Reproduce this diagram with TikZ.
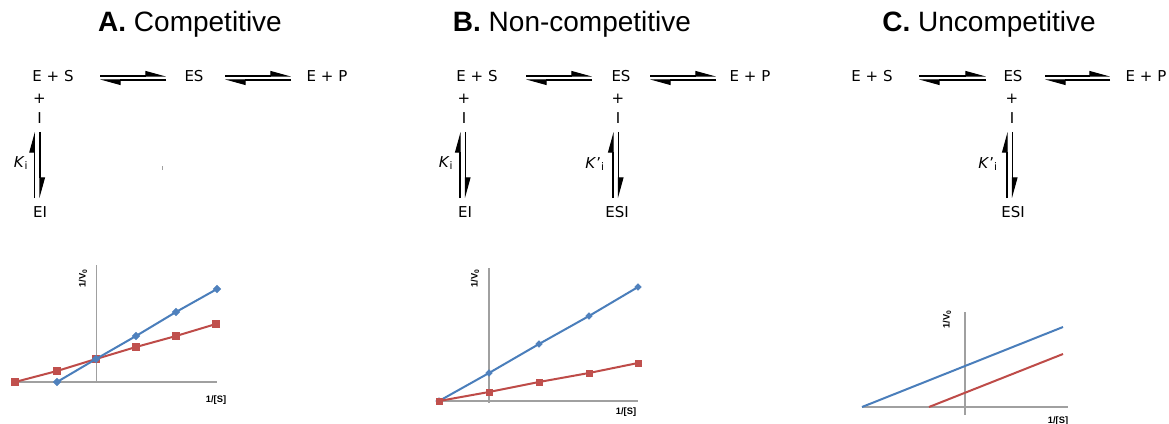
\documentclass[tikz,border=0pt]{standalone}
\usepackage{fontspec}
\setmainfont{DejaVu Sans}
\newfontfamily\titlefont{Liberation Sans}
\usetikzlibrary{arrows.meta,plotmarks}
\definecolor{exblue}{HTML}{4A7EBB}
\definecolor{exred}{HTML}{BE4B48}
\definecolor{mkblue}{HTML}{4F81BD}
\definecolor{mkred}{HTML}{C0504D}
\definecolor{axgray}{HTML}{A0A0A0}
\tikzset{
  lbl/.style={anchor=base,inner sep=0pt,font=\fontsize{11.25}{13}\selectfont},
  ttl/.style={anchor=base,inner sep=0pt,font=\titlefont\fontsize{21}{25}\selectfont},
  eqarrow/.style={line width=0.8pt,-{Triangle[harpoon,length=14pt,width=7.5pt]}},
  axisline/.style={axgray,line width=0.9pt},
  blueser/.style={exblue,line width=1.5pt},
  redser/.style={exred,line width=1.5pt},
  sqmark/.style={mark=square*,mark size=#1,mark options={solid,fill=mkred,draw=mkred,line width=0.4pt}},
  dmmark/.style={mark=diamond*,mark size=#1,mark options={solid,xscale=1.3,fill=mkblue,draw=mkblue,line width=0.4pt}},
  glbl/.style={inner sep=0pt,font=\titlefont\bfseries\fontsize{7}{8}\selectfont},
}
\begin{document}
\begin{tikzpicture}[x=0.75pt,y=-0.75pt]
\useasboundingbox (0,0) rectangle (1169,424);
\fill[white] (0,0) rectangle (1169,424);

% ---------- titles
\node[ttl] (tA) at (190,32) {\textbf{A.} Competitive};
\node[ttl] (tB) at (572,32) {\textbf{B.} Non-competitive};
\node[ttl] (tC) at (989,32) {\textbf{C.} Uncompetitive};

% ---------- scheme A
\node[lbl] (aes) at (53,82) {E + S};
\node[lbl] (acx) at (194,82) {ES};
\node[lbl] (aep) at (327,82) {E + P};
\node[lbl] (aplus) at (39.5,104) {+};
\node[lbl] (ai) at (39.5,124) {I};
\node[lbl] (aei) at (40,217) {EI};
\node[lbl] (aki) at (21,167) {\textit{K}\textsubscript{i}};
\draw[eqarrow] (100,76) -- (166,76);
\draw[eqarrow] (166,80) -- (100,80);
\draw[eqarrow] (225,76) -- (291,76);
\draw[eqarrow] (291,80) -- (225,80);
\draw[eqarrow] (34.3,198) -- (34.3,132);
\draw[eqarrow] (40,132) -- (40,198);
\draw[axgray,line width=0.5pt] (162.5,166) -- (162.5,169.5);

% ---------- scheme B
\node[lbl] (bes) at (477,82) {E + S};
\node[lbl] (bcx) at (621,82) {ES};
\node[lbl] (bep) at (750,82) {E + P};
\node[lbl] (bplus) at (464,104) {+};
\node[lbl] (bi) at (464,124) {I};
\node[lbl] (bei) at (465,217) {EI};
\node[lbl] (bki) at (446,167) {\textit{K}\textsubscript{i}};
\node[lbl] (bplus2) at (618,104) {+};
\node[lbl] (bi2) at (618,124) {I};
\node[lbl] (besi) at (617,217) {ESI};
\node[lbl] (bkii) at (595,168) {\textit{K}'\textsubscript{i}};
\draw[eqarrow] (526,76) -- (592,76);
\draw[eqarrow] (592,80) -- (526,80);
\draw[eqarrow] (650,76) -- (716,76);
\draw[eqarrow] (716,80) -- (650,80);
\draw[eqarrow] (460,198) -- (460,132);
\draw[eqarrow] (465.5,132) -- (465.5,198);
\draw[eqarrow] (613,198) -- (613,132);
\draw[eqarrow] (618.5,132) -- (618.5,198);

% ---------- scheme C
\node[lbl] (ces) at (872,82) {E + S};
\node[lbl] (ccx) at (1013,82) {ES};
\node[lbl] (cep) at (1146,82) {E + P};
\node[lbl] (cplus) at (1012,104) {+};
\node[lbl] (ci) at (1012,124) {I};
\node[lbl] (cesi) at (1013,217) {ESI};
\node[lbl] (ckii) at (988,168) {\textit{K}'\textsubscript{i}};
\draw[eqarrow] (919,76) -- (986,76);
\draw[eqarrow] (986,80) -- (919,80);
\draw[eqarrow] (1045,76) -- (1110,76);
\draw[eqarrow] (1110,80) -- (1045,80);
\draw[eqarrow] (1007,198) -- (1007,132);
\draw[eqarrow] (1012.5,132) -- (1012.5,198);

% ---------- graph A
\draw[axisline] (15,382) -- (217,382);
\draw[axisline] (96.7,265) -- (96.7,383);
\draw[redser,sqmark=2.6pt] plot coordinates {(15,382) (57,371) (96,359) (136,347) (176,336) (216,324)};
\draw[blueser,dmmark=2.8pt] plot coordinates {(57,382) (96,359) (136,336) (176,312) (217,289)};
\node[glbl,rotate=90] (ayl) at (83,278) {1/V\textsubscript{0}};
\node[glbl] (axl) at (216,400) {1/[S]};

% ---------- graph B
\draw[axisline] (438,401) -- (638,401);
\draw[axisline] (489,268) -- (489,403);
\draw[blueser,dmmark=2.5pt] plot coordinates {(439,401) (489,373) (539,344) (589,316) (638,287)};
\draw[redser,sqmark=2.2pt] plot coordinates {(439,401) (489,392) (539,382) (589,373) (638,363)};
\node[glbl,rotate=90] (byl) at (475,278) {1/V\textsubscript{0}};
\node[glbl] (bxl) at (626,412) {1/[S]};

% ---------- graph C
\draw[axisline] (862,407) -- (1068,407);
\draw[axisline] (965,312) -- (965,415);
\draw[blueser] (862,407) -- (1063,327);
\draw[redser] (929,407) -- (1063,354);
\node[glbl,rotate=90] (cyl) at (947,319) {1/V\textsubscript{0}};
\node[glbl] (cxl) at (1058,421) {1/[S]};
\end{tikzpicture}
\end{document}
